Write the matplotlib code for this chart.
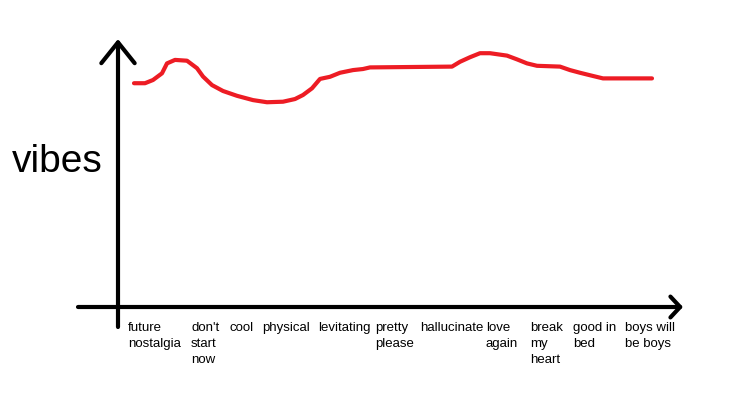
import matplotlib
matplotlib.use("Agg")
import matplotlib.pyplot as plt

# --- data -------------------------------------------------------------
songs = ["future\nnostalgia", "don't\nstart\nnow", "cool", "physical",
         "levitating", "pretty\nplease", "hallucinate", "love\nagain",
         "break\nmy\nheart", "good in\nbed", "boys will\nbe boys"]
song_pos = [10, 73, 111, 144, 200, 257, 302, 368, 412, 455, 507]

curve_x = [16, 27, 35, 44, 49, 57, 69, 79, 85, 94, 105, 119, 135, 149, 165,
           177, 185, 194, 202, 212, 222, 235, 245, 252, 334, 342, 352, 362,
           372, 389, 399, 409, 419, 442, 452, 462, 475, 485, 534]
vibes = [83.5, 83.5, 84.7, 87.2, 90.9, 92.2, 91.9, 89.1, 86.0, 82.8, 80.6,
         78.8, 77.2, 76.4, 76.6, 77.6, 79.1, 81.6, 85.1, 85.9, 87.4, 88.4,
         88.8, 89.4, 89.7, 91.5, 93.2, 94.7, 94.7, 93.8, 92.4, 90.9, 90.0,
         89.7, 88.4, 87.4, 86.2, 85.3, 85.3]

# --- figure -----------------------------------------------------------
W, H = 729, 397
fig = plt.figure(figsize=(W / 100, H / 100), dpi=100)
fig.patch.set_facecolor("white")

left, right, bottom, top = 118, 683, 307, 39
ax = fig.add_axes([left / W, (H - bottom) / H, (right - left) / W, (bottom - top) / H])
ax.set_xlim(0, 565)
ax.set_ylim(0, 100)
ax.patch.set_alpha(0)
for s in ax.spines.values():
    s.set_visible(False)

ax.plot(curve_x, vibes, color="#ED1C24", lw=3, solid_capstyle="round",
        solid_joinstyle="round")

# hand-drawn style axes with open arrowheads
ax.annotate("", xy=(0, 1), xytext=(0, -20 / 268), xycoords="axes fraction",
            textcoords="axes fraction", annotation_clip=False,
            arrowprops=dict(arrowstyle="->,head_length=15,head_width=12",
                            mutation_scale=1, lw=3, color="black",
                            shrinkA=0, shrinkB=0, capstyle="round",
                            joinstyle="round"))
ax.annotate("", xy=(1, 0), xytext=(-40 / 565, 0), xycoords="axes fraction",
            textcoords="axes fraction", annotation_clip=False,
            arrowprops=dict(arrowstyle="->,head_length=7,head_width=7.5",
                            mutation_scale=1, lw=3, color="black",
                            shrinkA=0, shrinkB=0, capstyle="round",
                            joinstyle="round"))

ax.set_yticks([])
ax.set_xticks(song_pos)
ax.set_xticklabels(songs, ha="left", va="top", fontsize=9.5,
                   family="Liberation Sans", linespacing=1.42)
ax.tick_params(axis="x", length=0, pad=11)

fig.text(12 / W, (H - 172) / H, "vibes", fontsize=28, family="Liberation Sans",
         ha="left", va="baseline")

fig.savefig("out.png", dpi=100, facecolor="white")
